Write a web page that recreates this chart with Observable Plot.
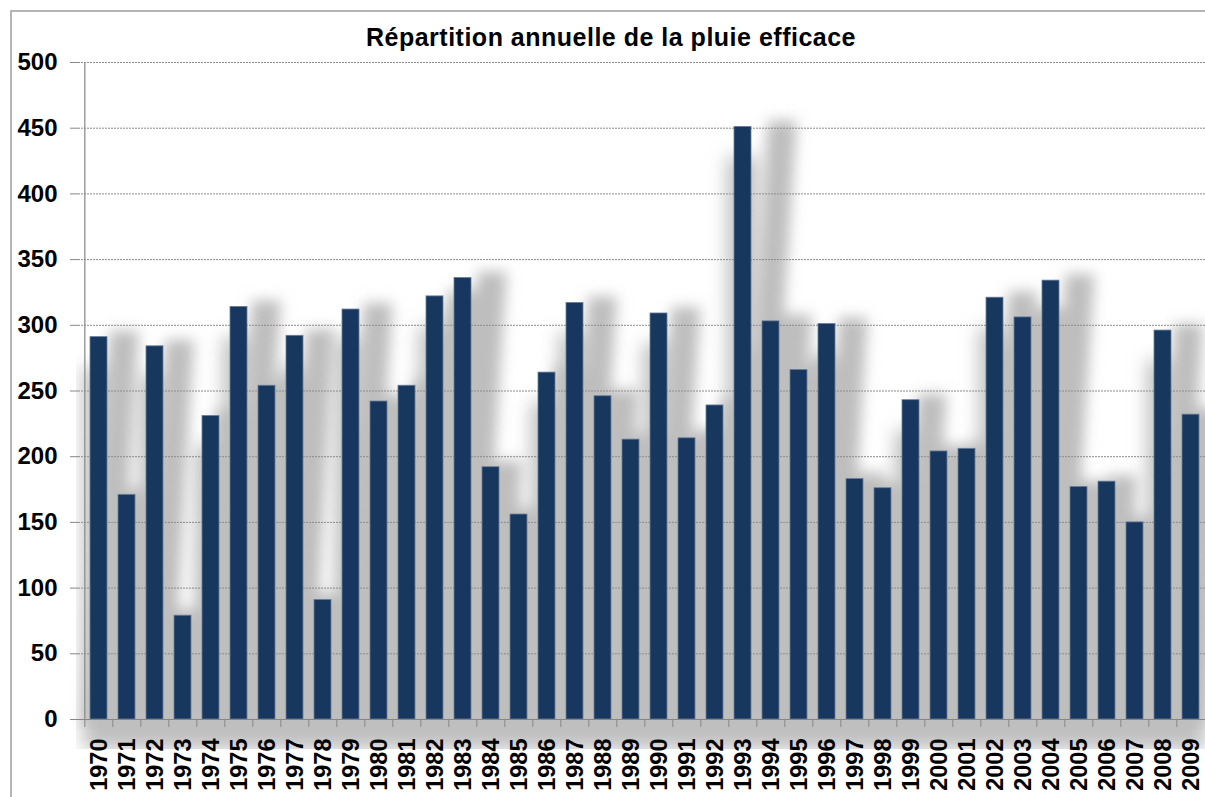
<!DOCTYPE html>
<html>
<head>
<meta charset="utf-8">
<script src="https://cdn.jsdelivr.net/npm/d3@7"></script>
<script src="https://cdn.jsdelivr.net/npm/@observablehq/plot@0.6"></script>
<style>
  html, body { margin: 0; padding: 0; background: #fff; overflow: hidden; width: 1205px; height: 797px; }
  #border { position: absolute; left: 10px; top: 10px; width: 1400px; height: 1000px; border-top: 2px solid #b4b4b4; border-left: 2px solid #b4b4b4; }
  #wrap { position: absolute; left: 0; top: 0; width: 1300px; }
  #title { height: 50px; box-sizing: border-box; padding-top: 25px; width: 1222px; text-align: center;
           font: bold 25px "Liberation Sans", Arial, sans-serif; letter-spacing: 0.5px; line-height: 25px; color: #000; }
  #chart svg { max-width: none !important; }
  .shadow rect { transform-box: fill-box; transform-origin: 50% 100%; transform: skewX(-3.8deg); }
</style>
</head>
<body>
<div id="border"></div>
<div id="wrap">
  <div id="title">Répartition annuelle de la pluie efficace</div>
  <div id="chart"></div>
</div>
<script>
const years = ["1970","1971","1972","1973","1974","1975","1976","1977","1978","1979",
               "1980","1981","1982","1983","1984","1985","1986","1987","1988","1989",
               "1990","1991","1992","1993","1994","1995","1996","1997","1998","1999",
               "2000","2001","2002","2003","2004","2005","2006","2007","2008","2009"];
const values = [291, 171, 284, 79, 231, 314, 254, 292, 91, 312,
                242, 254, 322, 336, 192, 156, 264, 317, 246, 213,
                309, 214, 239, 451, 303, 266, 301, 183, 176, 243,
                204, 206, 321, 306, 334, 177, 181, 150, 296, 232];
const yTicks = [0, 50, 100, 150, 200, 250, 300, 350, 400, 450, 500];

const data = years.map((y, i) => ({year: y, value: values[i]}));

const W = 1240, mL = 78, mR = 29;
const step = (W - mL - mR) / years.length;

const chart = Plot.plot({
  width: W,
  height: 747,
  marginTop: 12,
  marginBottom: 78,
  marginLeft: mL,
  marginRight: mR,
  style: {fontFamily: "'Liberation Sans', Arial, sans-serif", fontSize: "24px", fontWeight: "bold", color: "#000", overflow: "visible", background: "transparent", maxWidth: "none"},
  x: {domain: years, paddingInner: 0.39, paddingOuter: 0.195, align: 0.5, label: null},
  y: {domain: [0, 500], ticks: yTicks, label: null},
  marks: [
    Plot.barY(data, {x: "year", y: "value", fill: "#c0c0c0", insetLeft: -7, insetRight: -7, dy: 30, className: "baseShadow"}),
    Plot.barY(data, {x: "year", y: "value", fill: "#bebebe", stroke: "#bebebe", strokeWidth: 12, className: "shadow"}),
    Plot.ruleY(yTicks.filter(d => d > 0), {stroke: "#8c8c8c", strokeWidth: 1, strokeDasharray: "2,1"}),
    Plot.barY(data, {x: "year", y: "value", fill: "#17375e", stroke: "#6a7e9b", strokeWidth: 0.8}),
    Plot.ruleY([0], {stroke: "#868686", strokeWidth: 1.2}),
    Plot.ruleX([years[0]], {y1: 0, y2: 500, dx: -step / 2, stroke: "#868686", strokeWidth: 1.2}),
    Plot.axisY({ticks: yTicks, tickSize: 8, tickPadding: 13, stroke: "#868686", fill: "#000", fontSize: 24, fontWeight: "bold"}),
    Plot.axisX({tickSize: 8, dx: -step / 2, stroke: "#868686", tickFormat: () => ""}),
    Plot.axisX({tickSize: 0, tickPadding: 19, tickRotate: -90, fill: "#000", fontSize: 23.5, fontWeight: "bold"})
  ]
});

const svg = d3.select(chart);
const defs = svg.insert("defs", ":first-child");
defs.append("filter")
    .attr("id", "softShadow")
    .attr("filterUnits", "userSpaceOnUse")
    .attr("x", 0).attr("y", 0).attr("width", W + 100).attr("height", 680)
  .append("feGaussianBlur")
    .attr("stdDeviation", 7);
defs.append("filter")
    .attr("id", "baseBlur")
    .attr("filterUnits", "userSpaceOnUse")
    .attr("x", 0).attr("y", 0).attr("width", W + 100).attr("height", 680)
  .append("feGaussianBlur")
    .attr("stdDeviation", 9);
defs.append("clipPath")
    .attr("id", "plotArea")
  .append("rect")
    .attr("x", mL - 2).attr("y", 0).attr("width", W).attr("height", 669);
svg.selectAll("g.shadow").attr("filter", "url(#softShadow)");
svg.selectAll("g.baseShadow").attr("filter", "url(#baseBlur)").attr("clip-path", "url(#plotArea)");

document.getElementById("chart").appendChild(chart);
</script>
</body>
</html>
